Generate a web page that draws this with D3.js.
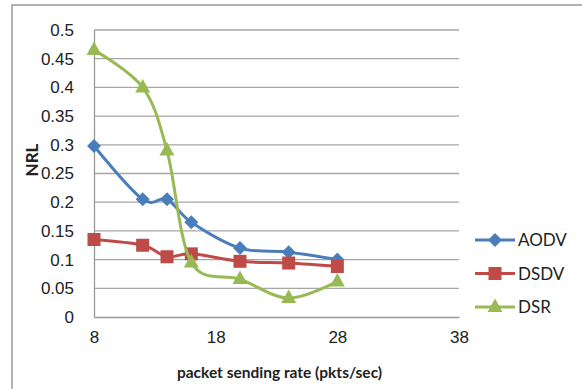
<!DOCTYPE html>
<html>
<head>
<meta charset="utf-8">
<script src="https://cdn.jsdelivr.net/npm/d3@7"></script>
<style>
  html, body { margin: 0; padding: 0; background: #fff; }
  svg { display: block; font-family: Lato, "Open Sans", sans-serif; }
</style>
</head>
<body>
<svg id="chart" width="582" height="389"></svg>
<script>
// Normalized routing load vs packet sending rate
const rates = [8, 12, 14, 16, 20, 24, 28];
const aodv = [0.298, 0.205, 0.205, 0.165, 0.12, 0.113, 0.1];
const dsdv = [0.135, 0.125, 0.105, 0.11, 0.097, 0.094, 0.088];
const dsr  = [0.465, 0.4, 0.29, 0.095, 0.066, 0.033, 0.062];
const yTicks = [0, 0.05, 0.1, 0.15, 0.2, 0.25, 0.3, 0.35, 0.4, 0.45, 0.5];
const xTicks = [8, 18, 28, 38];
const seriesNames = ["AODV", "DSDV", "DSR"];

const series = [
  { name: seriesNames[0], values: aodv, color: "#4A7EBB", marker: "diamond" },
  { name: seriesNames[1], values: dsdv, color: "#BE4B48", marker: "square" },
  { name: seriesNames[2], values: dsr,  color: "#98B954", marker: "triangle" }
];

const svg = d3.select("#chart");

// outer chart frame
svg.append("rect")
  .attr("x", 12).attr("y", 5).attr("width", 600).attr("height", 420)
  .attr("fill", "none").attr("stroke", "#9a9a9a").attr("stroke-width", 1.5);

const plot = { left: 94, right: 459, top: 30, bottom: 317 };
const x = d3.scaleLinear().domain([8, 38]).range([plot.left, plot.right]);
const y = d3.scaleLinear().domain([0, 0.5]).range([plot.bottom, plot.top]);

// horizontal gridlines
svg.append("g").selectAll("line").data(yTicks.slice(1)).join("line")
  .attr("x1", plot.left).attr("x2", plot.right)
  .attr("y1", d => y(d)).attr("y2", d => y(d))
  .attr("stroke", "#a6a6a6").attr("stroke-width", 1.3);

// axes
const yAxis = d3.axisLeft(y).tickValues(yTicks).tickSize(0).tickPadding(20)
  .tickFormat(d => String(+d.toFixed(2)));
const gy = svg.append("g").attr("transform", `translate(${plot.left},0)`).call(yAxis);
gy.select(".domain").attr("stroke", "#999").attr("stroke-width", 1.3);
gy.selectAll("text").attr("font-size", 17).attr("fill", "#222");

const xAxis = d3.axisBottom(x).tickValues(xTicks).tickSize(0).tickPadding(14)
  .tickFormat(d3.format("d"));
const gx = svg.append("g").attr("transform", `translate(0,${plot.bottom})`).call(xAxis);
gx.select(".domain").attr("stroke", "#999").attr("stroke-width", 1.3);
gx.selectAll("text").attr("font-size", 17).attr("fill", "#222");

// axis titles
svg.append("text")
  .attr("x", (plot.left + plot.right) / 2 + 3).attr("y", 378)
  .attr("text-anchor", "middle").attr("font-size", 15.5).attr("font-weight", "bold")
  .attr("fill", "#222").text("packet sending rate (pkts/sec)");
svg.append("text")
  .attr("transform", "translate(38,160) rotate(-90)")
  .attr("text-anchor", "middle").attr("font-size", 17).attr("font-weight", "bold")
  .attr("fill", "#222").text("NRL");

// markers
function drawMarker(sel, type, color) {
  if (type === "diamond") {
    sel.append("path").attr("d", "M0,-7L7,0L0,7L-7,0Z").attr("fill", color);
  } else if (type === "square") {
    sel.append("rect").attr("x", -6.5).attr("y", -6.5).attr("width", 13).attr("height", 13)
      .attr("fill", color);
  } else {
    sel.append("path").attr("d", "M0,-8.5L7.5,5L-7.5,5Z").attr("fill", color);
  }
}

const line = d3.line().x(d => x(d[0])).y(d => y(d[1])).curve(d3.curveCatmullRom.alpha(0));

series.forEach(s => {
  const pts = rates.map((r, i) => [r, s.values[i]]);
  svg.append("path").datum(pts).attr("d", line)
    .attr("fill", "none").attr("stroke", s.color).attr("stroke-width", 3)
    .attr("stroke-linejoin", "round");
  svg.append("g").selectAll("g").data(pts).join("g")
    .attr("transform", d => `translate(${x(d[0])},${y(d[1])})`)
    .each(function () { drawMarker(d3.select(this), s.marker, s.color); });
});

// legend
const legend = svg.append("g");
series.forEach((s, i) => {
  const ly = 240 + i * 33.5;
  const g = legend.append("g");
  g.append("line").attr("x1", 475).attr("x2", 515).attr("y1", ly).attr("y2", ly)
    .attr("stroke", s.color).attr("stroke-width", 3);
  const m = g.append("g").attr("transform", `translate(495,${ly})`);
  drawMarker(m, s.marker, s.color);
  g.append("text").attr("x", 518).attr("y", ly + 6).attr("font-size", 17)
    .attr("fill", "#222").text(s.name);
});
</script>
</body>
</html>
